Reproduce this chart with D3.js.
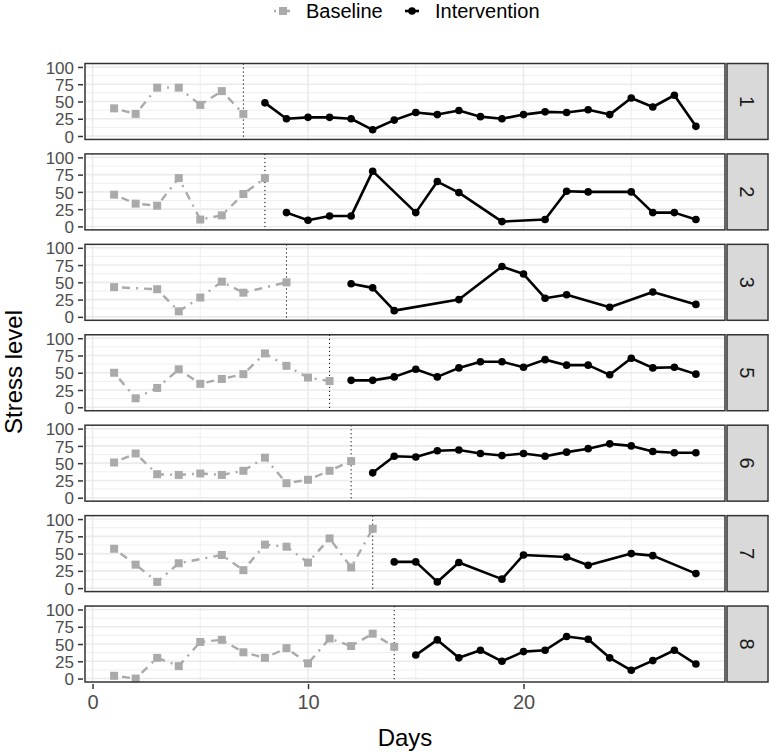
<!DOCTYPE html>
<html>
<head>
<meta charset="utf-8">
<script src="https://cdn.jsdelivr.net/npm/d3@7"></script>
<style>
  body { margin: 0; background: #fff; }
  svg { display: block; font-family: "Liberation Sans", Arial, sans-serif; }
</style>
</head>
<body>
<script>
// participants shown as facet rows
let panelIds = ["1", "2", "3", "5", "6", "7", "8"];

// baseline phase (days and stress level)
let baseDays = [
    [1, 2, 3, 4, 5, 6, 7],
    [1, 2, 3, 4, 5, 6, 7, 8],
    [1, 3, 4, 5, 6, 7, 9],
    [1, 2, 3, 4, 5, 6, 7, 8, 9, 10, 11],
    [1, 2, 3, 4, 5, 6, 7, 8, 9, 10, 11, 12],
    [1, 2, 3, 4, 6, 7, 8, 9, 10, 11, 12, 13],
    [1, 2, 3, 4, 5, 6, 7, 8, 9, 10, 11, 12, 13, 14]
];
let baseStress = [
    [40, 32, 70, 70, 45, 65, 32],
    [46, 33, 30, 70, 10, 16, 47, 70],
    [43, 40, 8, 28, 51, 35, 50],
    [50, 13, 28, 55, 34, 41, 48, 78, 60, 43, 38],
    [51, 64, 34, 33, 35, 33, 39, 58, 21, 26, 39, 53],
    [57, 34, 9, 36, 48, 26, 63, 60, 37, 72, 30, 86],
    [4, 0, 30, 18, 53, 56, 38, 30, 44, 22, 58, 47, 65, 46]
];

// intervention phase
let intDays = [
    [8, 9, 10, 11, 12, 13, 14, 15, 16, 17, 18, 19, 20, 21, 22, 23, 24, 25, 26, 27, 28],
    [9, 10, 11, 12, 13, 15, 16, 17, 19, 21, 22, 23, 25, 26, 27, 28],
    [12, 13, 14, 17, 19, 20, 21, 22, 24, 26, 28],
    [12, 13, 14, 15, 16, 17, 18, 19, 20, 21, 22, 23, 24, 25, 26, 27, 28],
    [13, 14, 15, 16, 17, 18, 19, 20, 21, 22, 23, 24, 25, 26, 27, 28],
    [14, 15, 16, 17, 19, 20, 22, 23, 25, 26, 28],
    [15, 16, 17, 18, 19, 20, 21, 22, 23, 24, 25, 26, 27, 28]
];
let intStress = [
    [48, 25, 27, 27, 25, 9, 23, 34, 31, 37, 28, 25, 31, 35, 34, 38, 31, 55, 42, 59, 14],
    [20, 9, 15, 15, 80, 20, 65, 49, 7, 10, 51, 50, 50, 20, 20, 10],
    [48, 42, 9, 25, 73, 62, 27, 32, 14, 36, 18],
    [39, 39, 44, 55, 44, 57, 66, 66, 58, 69, 61, 61, 47, 71, 57, 58, 48],
    [36, 60, 59, 68, 69, 64, 61, 64, 60, 66, 71, 78, 75, 67, 65, 65],
    [38, 38, 9, 37, 13, 48, 45, 33, 50, 47, 21],
    [34, 56, 30, 41, 25, 39, 41, 61, 57, 30, 12, 26, 41, 21]
];

// last baseline day (dotted phase line)
let phaseChange = [7, 8, 9, 11, 12, 13, 14];

let yTicks = [0, 25, 50, 75, 100];
let yMinor = [12.5, 37.5, 62.5, 87.5];
let xTicks = [0, 10, 20];
let xMinor = [5, 15, 25];

let width = 771,
    height = 752,
    plotLeft = 85,
    plotRight = 725,
    stripWidth = 41,
    baseColor = "#aaaaaa",
    frameColor = "#333333",
    gridColor = "#ebebeb",
    tickTextColor = "#4d4d4d";

let svg = d3.select("body").append("svg")
    .attr("width", width)
    .attr("height", height);

let x = d3.scaleLinear().domain([-0.35, 29.35]).range([plotLeft, plotRight]);
let rows = d3.scaleBand().domain(panelIds).range([63.5, 682]).paddingInner(0.16);

function drawPanel(i) {
    let top = rows(panelIds[i]);
    let h = rows.bandwidth();
    let y = d3.scaleLinear().domain([-5, 105]).range([top + h, top]);
    let g = svg.append("g");

    g.append("rect")
        .attr("x", plotLeft).attr("y", top)
        .attr("width", plotRight - plotLeft).attr("height", h)
        .attr("fill", "#fff");

    // grid
    g.selectAll(".ymin").data(yMinor).join("line")
        .attr("x1", plotLeft).attr("x2", plotRight)
        .attr("y1", d => y(d)).attr("y2", d => y(d))
        .attr("stroke", gridColor).attr("stroke-width", 0.8);
    g.selectAll(".xmin").data(xMinor).join("line")
        .attr("y1", top).attr("y2", top + h)
        .attr("x1", d => x(d)).attr("x2", d => x(d))
        .attr("stroke", gridColor).attr("stroke-width", 0.8);
    g.selectAll(".ymaj").data(yTicks).join("line")
        .attr("x1", plotLeft).attr("x2", plotRight)
        .attr("y1", d => y(d)).attr("y2", d => y(d))
        .attr("stroke", gridColor).attr("stroke-width", 1.6);
    g.selectAll(".xmaj").data(xTicks).join("line")
        .attr("y1", top).attr("y2", top + h)
        .attr("x1", d => x(d)).attr("x2", d => x(d))
        .attr("stroke", gridColor).attr("stroke-width", 1.6);

    // phase change line
    g.append("line")
        .attr("x1", x(phaseChange[i])).attr("x2", x(phaseChange[i]))
        .attr("y1", top).attr("y2", top + h)
        .attr("stroke", "#000").attr("stroke-width", 1)
        .attr("stroke-dasharray", "1.2,2.8");

    let base = baseDays[i].map((d, k) => ({x: d, y: baseStress[i][k]}));
    let inter = intDays[i].map((d, k) => ({x: d, y: intStress[i][k]}));
    let line = d3.line().x(d => x(d.x)).y(d => y(d.y));

    g.append("path").datum(base)
        .attr("d", line)
        .attr("fill", "none")
        .attr("stroke", baseColor)
        .attr("stroke-width", 2.4)
        .attr("stroke-dasharray", "2,6,8,6");
    g.selectAll(".bpt").data(base).join("path")
        .attr("d", d3.symbol(d3.symbolSquare, 64))
        .attr("transform", d => "translate(" + x(d.x) + "," + y(d.y) + ")")
        .attr("fill", baseColor);

    g.append("path").datum(inter)
        .attr("d", line)
        .attr("fill", "none")
        .attr("stroke", "#000")
        .attr("stroke-width", 2.6)
        .attr("stroke-linejoin", "round");
    g.selectAll(".ipt").data(inter).join("circle")
        .attr("cx", d => x(d.x)).attr("cy", d => y(d.y))
        .attr("r", 3.8)
        .attr("fill", "#000");

    g.append("rect")
        .attr("x", plotLeft).attr("y", top)
        .attr("width", plotRight - plotLeft).attr("height", h)
        .attr("fill", "none")
        .attr("stroke", frameColor).attr("stroke-width", 1.5);

    // y axis
    let yAxis = d3.axisLeft(y).tickValues(yTicks).tickSize(5).tickPadding(4);
    let ya = svg.append("g")
        .attr("transform", "translate(" + (plotLeft - 2) + ",0)")
        .call(yAxis);
    ya.select(".domain").remove();
    ya.selectAll("line").attr("stroke", frameColor).attr("stroke-width", 1.5);
    ya.selectAll("text")
        .attr("fill", tickTextColor)
        .style("font-size", "17px")
        .attr("dy", "0.36em");

    // strip
    let sx = plotRight + 2;
    svg.append("rect")
        .attr("x", sx).attr("y", top)
        .attr("width", stripWidth).attr("height", h)
        .attr("fill", "#d9d9d9")
        .attr("stroke", frameColor).attr("stroke-width", 1.5);
    svg.append("text")
        .attr("transform", "translate(" + (sx + stripWidth / 2) + "," + (top + h / 2) + ") rotate(90)")
        .attr("text-anchor", "middle")
        .attr("dy", "0.36em")
        .attr("fill", "#1a1a1a")
        .style("font-size", "20px")
        .text(panelIds[i]);

    if (i === panelIds.length - 1) {
        let xAxis = d3.axisBottom(x).tickValues(xTicks).tickSize(5).tickPadding(6);
        let xa = svg.append("g")
            .attr("transform", "translate(0," + (top + h + 2) + ")")
            .call(xAxis);
        xa.select(".domain").remove();
        xa.selectAll("line").attr("stroke", frameColor).attr("stroke-width", 1.5);
        xa.selectAll("text")
            .attr("fill", tickTextColor)
            .style("font-size", "20px");
    }
}

function drawLegend() {
    let ly = 11;
    let lg = svg.append("g");
    lg.append("line")
        .attr("x1", 274).attr("x2", 292).attr("y1", ly).attr("y2", ly)
        .attr("stroke", baseColor).attr("stroke-width", 2.4)
        .attr("stroke-dasharray", "2,6,8,6");
    lg.append("path")
        .attr("d", d3.symbol(d3.symbolSquare, 64))
        .attr("transform", "translate(283," + ly + ")")
        .attr("fill", baseColor);
    lg.append("text")
        .attr("x", 306).attr("y", ly).attr("dy", "0.36em")
        .style("font-size", "20px")
        .text("Baseline");
    lg.append("line")
        .attr("x1", 405).attr("x2", 419).attr("y1", ly).attr("y2", ly)
        .attr("stroke", "#000").attr("stroke-width", 2.6);
    lg.append("circle")
        .attr("cx", 412).attr("cy", ly).attr("r", 3.8)
        .attr("fill", "#000");
    lg.append("text")
        .attr("x", 435).attr("y", ly).attr("dy", "0.36em")
        .style("font-size", "20px")
        .text("Intervention");
}

function drawTitles() {
    svg.append("text")
        .attr("x", (plotLeft + plotRight) / 2).attr("y", 746)
        .attr("text-anchor", "middle")
        .style("font-size", "24px")
        .text("Days");
    svg.append("text")
        .attr("transform", "translate(22," + 372 + ") rotate(-90)")
        .attr("text-anchor", "middle")
        .style("font-size", "24px")
        .text("Stress level");
}

panelIds.forEach((p, i) => drawPanel(i));
drawLegend();
drawTitles();
</script>
</body>
</html>
